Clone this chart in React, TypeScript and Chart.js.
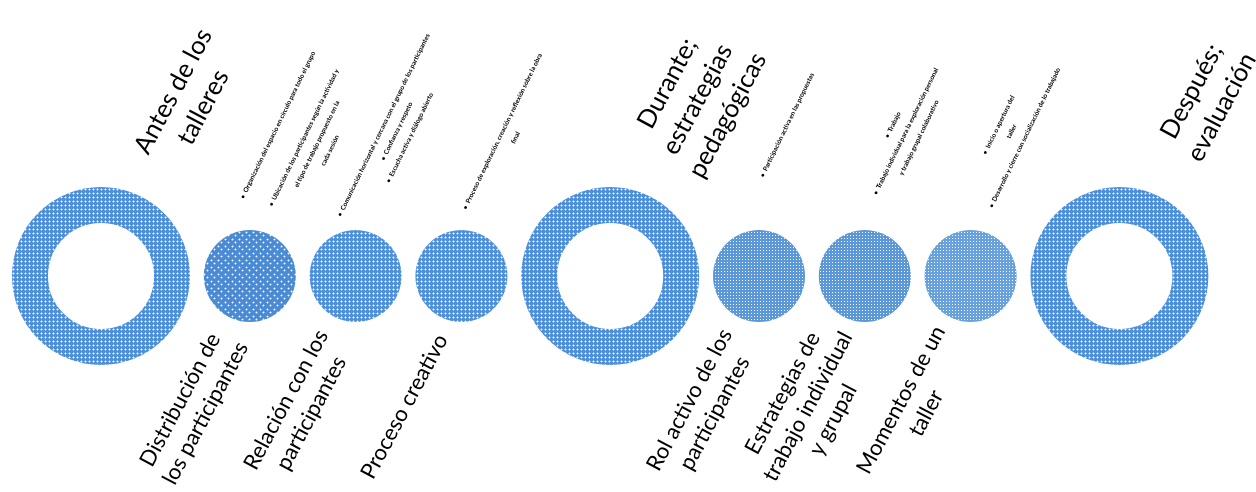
import React, { useEffect, useRef } from "react";
import { Chart, registerables } from "chart.js";

Chart.register(...registerables);

// ---- data ----
const nodeNames = [
  "Antes de los talleres",
  "Distribución de los participantes",
  "Relación con los participantes",
  "Proceso creativo",
  "Durante; estrategias pedagógicas",
  "Rol activo de los participantes",
  "Estrategias de trabajo individual y grupal",
  "Momentos de un taller",
  "Después; evaluación",
];

const nodeLines: string[][] = [
  ["Antes de los", "talleres"],
  ["Distribución de", "los participantes"],
  ["Relación con los", "participantes"],
  ["Proceso creativo"],
  ["Durante;", "estrategias", "pedagógicas"],
  ["Rol activo de los", "participantes"],
  ["Estrategias de", "trabajo individual", "y grupal"],
  ["Momentos de un", "taller"],
  ["Después;", "evaluación"],
];

// 1 = stage (ring), 2 = sub-item (filled circle)
const nodeLevels = [1, 2, 2, 2, 1, 2, 2, 2, 1];

const nodeDetails: string[][] = [
  [],
  [
    "•  Organización del espacio en círculo para todo el grupo",
    "",
    "•  Ubicación de los participantes según la actividad y",
    "el tipo de trabajo propuesto en la",
    "cada sesión",
  ],
  [
    "•  Comunicación horizontal y cercana con el grupo de los participantes",
    "•  Confianza y respeto",
    "•  Escucha activa y diálogo abierto",
  ],
  ["", "•  Proceso de exploración, creación y reflexión sobre la obra", "final"],
  [],
  ["•  Participación activa en las propuestas"],
  ["•  Trabajo", "•  Trabajo individual para la exploración personal", "y trabajo grupal colaborativo"],
  ["•  Inicio o apertura del", "taller", "•  Desarrollo y cierre con socialización de lo trabajado"],
  [],
];

// ---- helpers ----
function makePattern(base: string, tile: number, dots: [number, number][], dot: string, halo: string | null) {
  const c = document.createElement("canvas");
  c.width = tile;
  c.height = tile;
  const g = c.getContext("2d")!;
  g.fillStyle = base;
  g.fillRect(0, 0, tile, tile);
  for (const [x, y] of dots) {
    if (halo) {
      g.fillStyle = halo;
      g.fillRect(x - 1, y, 3, 1);
      g.fillRect(x, y - 1, 1, 3);
    }
    g.fillStyle = dot;
    g.fillRect(x, y, 1, 1);
  }
  return g.createPattern(c, "repeat")!;
}

const DEG = Math.PI / 180;

function drawBlock(
  ctx: CanvasRenderingContext2D,
  cx: number,
  cy: number,
  lines: string[],
  angle: number,
  along: number,
  perp: number,
  lh: number,
  font: string,
  mode: "middle" | "top"
) {
  ctx.save();
  ctx.translate(cx, cy);
  ctx.rotate(angle * DEG);
  ctx.font = font;
  ctx.fillStyle = "#000";
  ctx.textAlign = "center";
  ctx.textBaseline = "middle";
  const y0 = mode === "middle" ? perp - ((lines.length - 1) / 2) * lh : perp;
  lines.forEach((t, k) => {
    if (t) ctx.fillText(t, along, y0 + k * lh);
  });
  ctx.restore();
}

const labelPlugin = {
  id: "nodeLabels",
  afterDatasetsDraw(chart: any) {
    const ctx = chart.ctx as CanvasRenderingContext2D;
    const meta = chart.getDatasetMeta(0);
    meta.data.forEach((el: any, i: number) => {
      const cx = el.x;
      const cy = el.y;
      if (nodeLevels[i] === 1) {
        drawBlock(ctx, cx, cy, nodeLines[i], -62, 197, -6, 34, "25.5px Lato", "middle");
      } else {
        drawBlock(ctx, cx, cy, nodeLines[i], -62, -142, 11, 28.5, "22px Lato", "middle");
        drawBlock(ctx, cx, cy, nodeDetails[i], -64, 148, -41, 14.5, "bold 6.5px Lato", "top");
      }
    });
  },
};

export default function App() {
  const ref = useRef<HTMLCanvasElement>(null);

  useEffect(() => {
    if (!ref.current) return;
    const ringPat = makePattern("#4f8fd5", 4, [[1, 1]], "#ffffff", "rgba(255,255,255,0.45)");
    const sparsePat = makePattern("#4a8bd3", 7, [[1, 1], [4, 4]], "#ffffff", "rgba(255,255,255,0.4)");
    const densePat = makePattern("#5090d6", 4, [[1, 1]], "#ffffff", "rgba(255,255,255,0.45)");
    const finePat = makePattern("#5b98da", 3, [[1, 1]], "#ffffff", null);
    const lightPat = makePattern("#68a2de", 3, [[1, 1]], "#ffffff", null);
    const circlePats = [ringPat, sparsePat, densePat, densePat, ringPat, finePat, finePat, lightPat, ringPat];

    // diameters by level and cumulative placement
    const diam = (l: number) => (l === 1 ? 178 : 92);
    const gap = 13.8;
    const start = 12;
    const xs: number[] = [];
    let acc = start;
    nodeLevels.forEach((l) => {
      xs.push(acc + diam(l) / 2);
      acc += diam(l) + gap;
    });

    const chart = new Chart(ref.current, {
      type: "bubble",
      data: {
        labels: nodeNames,
        datasets: [
          {
            label: "Talleres",
            data: nodeLevels.map((l, i) => ({ x: xs[i], y: 0, r: l === 1 ? (diam(1) / 2 + 53) / 2 : diam(2) / 2 })),
            backgroundColor: nodeLevels.map((l, i) => (l === 1 ? "rgba(0,0,0,0)" : circlePats[i])),
            borderColor: nodeLevels.map((l, i) => (l === 1 ? circlePats[i] : "rgba(0,0,0,0)")),
            borderWidth: nodeLevels.map((l) => (l === 1 ? diam(1) / 2 - 53 : 0)),
            clip: false,
          } as any,
        ],
      },
      options: {
        animation: false,
        responsive: false,
        events: [],
        layout: { autoPadding: false, padding: { top: 60, left: 0, right: 0, bottom: 0 } } as any,
        plugins: { legend: { display: false }, tooltip: { enabled: false } },
        scales: {
          x: { type: "linear", display: false, min: 0, max: 1256 },
          y: { type: "linear", display: false, min: -1, max: 1 },
        },
      },
      plugins: [labelPlugin],
    });
    return () => chart.destroy();
  }, []);

  return (
    <div style={{ position: "absolute", left: 0, top: 0, width: 1256, height: 492, background: "#fff" }}>
      <canvas ref={ref} width={1256} height={492} style={{ display: "block", width: 1256, height: 492 }} />
    </div>
  );
}
